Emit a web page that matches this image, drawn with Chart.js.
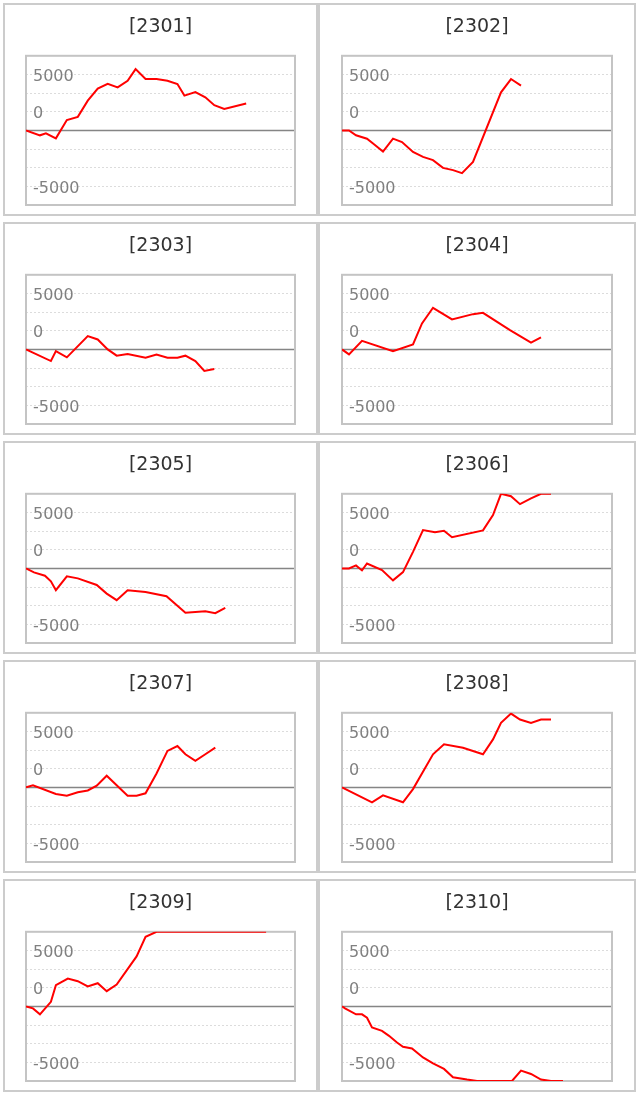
<!DOCTYPE html>
<html>
<head>
<meta charset="utf-8">
<script src="https://cdn.jsdelivr.net/npm/chart.js@4"></script>
<style>
html,body{margin:0;padding:0;background:#fff;}
body{width:639px;height:1094px;position:relative;overflow:hidden;}
.panel{position:absolute;box-sizing:border-box;border:2px solid #cccccc;height:213px;background:#fff;}
.panel .wrap{position:relative;width:100%;height:100%;}
</style>
</head>
<body>
<script>
// ---- data (x = step index, y = cumulative value) ----
const panelTitles = ['[2301]','[2302]','[2303]','[2304]','[2305]','[2306]','[2307]','[2308]','[2309]','[2310]'];

const x2301 = [0,1.4,2,3,4.1,5.2,6.2,7.2,8.2,9.2,10.2,11,12,13.1,14.2,15.2,15.9,17,18,18.9,19.9,22.1];
const y2301 = [0,-440,-270,-710,920,1210,2660,3730,4170,3850,4440,5480,4590,4590,4440,4140,3110,3430,2960,2250,1920,2400];

const x2302 = [0,0.7,1.4,2.5,3.2,4.1,5.1,6,7.1,8.1,9.1,10.1,11.1,12,13.1,15.9,16.9,17.9];
const y2302 = [0,0,-440,-740,-1240,-1890,-740,-1040,-1920,-2370,-2660,-3350,-3550,-3820,-2810,3400,4590,4000];

const x2303 = [0,2.5,3,4.1,6.2,7.2,8.2,9.1,10.2,12,13.1,14.2,15.2,16,17,17.9,18.9];
const y2303 = [0,-1040,-150,-710,1190,890,0,-560,-420,-740,-450,-740,-740,-560,-1040,-1930,-1760];

const x2304 = [0,0.7,2,5.1,7.1,8,9.1,11,13.1,14.1,16.8,18.9,19.9];
const y2304 = [0,-450,770,-150,450,2320,3720,2680,3150,3270,1730,600,1070];

const x2305 = [0,0.8,1.9,2.5,3,4.1,5.2,7.1,8.1,9.1,10.2,12,14.1,16,18,19,20];
const y2305 = [0,-360,-650,-1150,-1950,-710,-890,-1480,-2250,-2840,-1950,-2100,-2490,-3970,-3820,-4000,-3520];

const x2306 = [0,0.7,1.4,2,2.5,4,5.1,6.1,7.1,8.1,9.3,10.2,11,14.1,15.1,15.9,16.9,17.8,18.9,19.9,20.9];
const y2306 = [0,0,270,-180,440,-150,-1070,-330,1480,3430,3230,3370,2780,3400,4770,6667,6450,5740,6250,6667,6667];

const x2307 = [0,0.7,3,4.1,5.2,6.2,7.1,8.1,10.2,11.1,12,13.1,14.2,15.2,16,17,18,19];
const y2307 = [0,180,-590,-740,-440,-270,150,1040,-740,-740,-530,1240,3260,3700,2960,2370,2960,3550];

const x2308 = [0,3,4.1,6.1,7.1,9.1,10.2,12.1,14.1,15.1,15.9,16.9,17.8,18.9,19.9,20.9];
const y2308 = [0,-1330,-710,-1330,-150,2960,3850,3550,2960,4290,5770,6600,6070,5770,6070,6070];

const x2309 = [0,0.7,1.4,2.5,3,4.2,5.2,6.2,7.2,8.1,9.1,11.1,12,13.1,24.1];
const y2309 = [0,-180,-710,410,1890,2490,2250,1780,2070,1360,1950,4470,6220,6667,6667];

const x2310 = [0,0.3,1.4,2,2.5,3,4,4.7,5.5,6.1,7,8.1,9.1,10.2,11.1,12.5,13.5,17,17.9,18.9,19.9,20.9,22.1];
const y2310 = [0,-180,-710,-710,-1010,-1890,-2190,-2630,-3230,-3610,-3760,-4560,-5090,-5590,-6330,-6540,-6667,-6667,-5740,-6040,-6540,-6667,-6667];

const seriesX = [x2301,x2302,x2303,x2304,x2305,x2306,x2307,x2308,x2309,x2310];
const seriesY = [y2301,y2302,y2303,y2304,y2305,y2306,y2307,y2308,y2309,y2310];

// axis ranges and tick labels as shown in the picture
const xMax = 27;
const yLimit = 20000 / 3;
const gridStep = 5000 / 3;
const yTickValues = [5000, 5000 / 3, -5000];
const yTickLabels = ['5000', '0', '-5000'];

// ---- drawing ----
const framePlugin = {
  id: 'frame',
  beforeDatasetsDraw(chart) {
    const {ctx, chartArea: a, scales: {y}} = chart;
    ctx.save();
    const y0 = Math.round(y.getPixelForValue(0)) + 0.5;
    ctx.strokeStyle = '#858585';
    ctx.lineWidth = 1.5;
    ctx.beginPath();
    ctx.moveTo(a.left, y0);
    ctx.lineTo(a.right, y0);
    ctx.stroke();
    ctx.strokeStyle = '#c4c4c4';
    ctx.lineWidth = 2;
    ctx.strokeRect(a.left, a.top, a.right - a.left, a.bottom - a.top);
    ctx.restore();
  }
};

const gridValues = [];
for (let k = -4; k <= 4; k++) gridValues.push(k * gridStep);

panelTitles.forEach((title, i) => {
  const col = i % 2, row = Math.floor(i / 2);
  const panel = document.createElement('div');
  panel.className = 'panel';
  panel.style.left = (col ? 318 : 3) + 'px';
  panel.style.width = (col ? 318 : 315) + 'px';
  panel.style.top = (3 + 219 * row) + 'px';
  const wrap = document.createElement('div');
  wrap.className = 'wrap';
  const canvas = document.createElement('canvas');
  wrap.appendChild(canvas);
  panel.appendChild(wrap);
  document.body.appendChild(panel);

  const xs = seriesX[i], ys = seriesY[i];
  new Chart(canvas, {
    type: 'line',
    data: {
      datasets: [{
        data: xs.map((x, j) => ({x: x, y: ys[j]})),
        borderColor: '#ff0000',
        borderWidth: 2,
        pointRadius: 0,
        tension: 0,
        fill: false
      }]
    },
    options: {
      responsive: true,
      maintainAspectRatio: false,
      animation: false,
      events: [],
      layout: {padding: {left: col ? 22 : 21, right: col ? 22 : 21, top: 0, bottom: 9}, autoPadding: false},
      plugins: {
        legend: {display: false},
        tooltip: {enabled: false},
        title: {
          display: true,
          text: title,
          color: '#333333',
          font: {family: "'DejaVu Sans', sans-serif", size: 19, weight: 'normal', lineHeight: 1.2},
          padding: {top: 11, bottom: 17}
        }
      },
      scales: {
        x: {type: 'linear', min: 0, max: xMax, display: false},
        y: {
          type: 'linear',
          min: -yLimit,
          max: yLimit,
          afterBuildTicks: s => { s.ticks = gridValues.map(v => ({value: v})); },
          afterFit: s => { s.width = 0; s.paddingTop = 0; s.paddingBottom = 0; },
          ticks: {
            mirror: true,
            autoSkip: false,
            padding: 7,
            labelOffset: 2,
            color: '#808080',
            font: {family: "'DejaVu Sans', sans-serif", size: 16},
            callback: v => {
              const k = yTickValues.findIndex(t => Math.abs(t - v) < 1);
              return k >= 0 ? yTickLabels[k] : '';
            }
          },
          grid: {color: '#dcdcdc', lineWidth: 1, drawTicks: false},
          border: {display: false, dash: [2, 2]}
        }
      }
    },
    plugins: [framePlugin]
  });
});
</script>
</body>
</html>
